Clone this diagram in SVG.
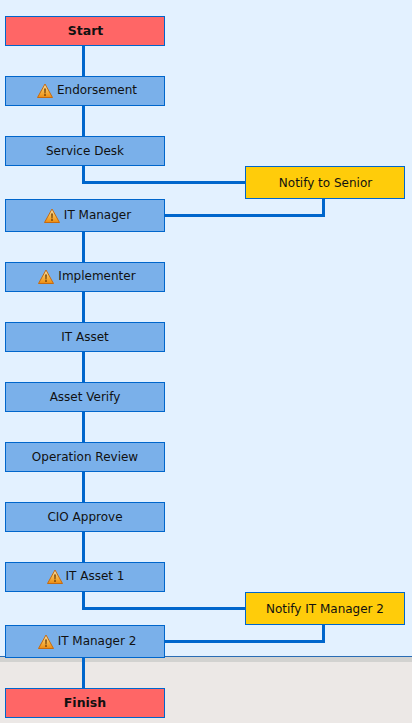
<svg xmlns="http://www.w3.org/2000/svg" width="412" height="723" viewBox="0 0 412 723">
<style>
.b{stroke:#0066CC;stroke-width:1}
.t{fill:#7AB0EA}.e{fill:#FF6666}.n{fill:#FFCC0A}
text{font-family:"DejaVu Sans",sans-serif;font-size:12px;fill:#111;text-anchor:middle}
.s{font-weight:bold;font-size:12.5px}
.c{fill:none;stroke:#0066CC;stroke-width:3}
</style>
<defs>
<linearGradient id="wg" x1="0" y1="0" x2="0" y2="1"><stop offset="0" stop-color="#F6E7C0"/><stop offset="0.5" stop-color="#F6B84A"/><stop offset="1" stop-color="#EE8C10"/></linearGradient>
<g id="warn"><path d="M8 1L15.5 14.5H.5Z" fill="url(#wg)" stroke="#C56A10" stroke-width="1" stroke-linejoin="round"/><path d="M7.2 5.5h1.6L8.5 10.5h-1Z" fill="#6B3A05"/><rect x="7.2" y="11.2" width="1.6" height="1.6" fill="#6B3A05"/></g>
</defs>
<rect width="412" height="656" fill="#E3F1FF"/>
<rect y="656" width="412" height="1" fill="#2A6DB5"/>
<rect y="657" width="412" height="5" fill="#D2D2D0"/>
<rect y="662" width="412" height="61" fill="#ECE8E6"/>
<g id="connectors">
<path class="c" d="M83.5 46V76M83.5 106V136M83.5 166V182.5H245M165 215.5H323.5V199M83.5 232V262M83.5 292V322M83.5 352V382M83.5 412V442M83.5 472V502M83.5 532V562M83.5 592V608.5H245M165 641.5H323.5V625M83.5 658V688"/>
</g>
<g id="start"><rect class="b e" x="5.5" y="16.5" width="159" height="29"/><text class="s" x="85.5" y="35">Start</text></g>
<g id="endorsement"><rect class="b t" x="5.5" y="76.5" width="159" height="29"/><use href="#warn" x="37" y="83"/><text x="97" y="94">Endorsement</text></g>
<g id="service-desk"><rect class="b t" x="5.5" y="136.5" width="159" height="29"/><text x="85" y="155">Service Desk</text></g>
<g id="notify-senior"><rect class="b n" x="245.5" y="166.5" width="159" height="32"/><text x="325.5" y="187">Notify to Senior</text></g>
<g id="it-manager"><rect class="b t" x="5.5" y="199.5" width="159" height="32"/><use href="#warn" x="44" y="208"/><text x="97.5" y="219">IT Manager</text></g>
<g id="implementer"><rect class="b t" x="5.5" y="262.5" width="159" height="29"/><use href="#warn" x="38" y="269"/><text x="97" y="280">Implementer</text></g>
<g id="it-asset"><rect class="b t" x="5.5" y="322.5" width="159" height="29"/><text x="85" y="341">IT Asset</text></g>
<g id="asset-verify"><rect class="b t" x="5.5" y="382.5" width="159" height="29"/><text x="85" y="401">Asset Verify</text></g>
<g id="operation-review"><rect class="b t" x="5.5" y="442.5" width="159" height="29"/><text x="85" y="461">Operation Review</text></g>
<g id="cio-approve"><rect class="b t" x="5.5" y="502.5" width="159" height="29"/><text x="85" y="521">CIO Approve</text></g>
<g id="it-asset-1"><rect class="b t" x="5.5" y="562.5" width="159" height="29"/><use href="#warn" x="47" y="569"/><text x="95" y="580">IT Asset 1</text></g>
<g id="notify-it-manager-2"><rect class="b n" x="245.5" y="592.5" width="159" height="32"/><text x="325" y="613">Notify IT Manager 2</text></g>
<g id="it-manager-2"><rect class="b t" x="5.5" y="625.5" width="159" height="32"/><use href="#warn" x="38" y="634"/><text x="97" y="645">IT Manager 2</text></g>
<g id="finish"><rect class="b e" x="5.5" y="688.5" width="159" height="29"/><text class="s" x="85" y="707">Finish</text></g>
</svg>
